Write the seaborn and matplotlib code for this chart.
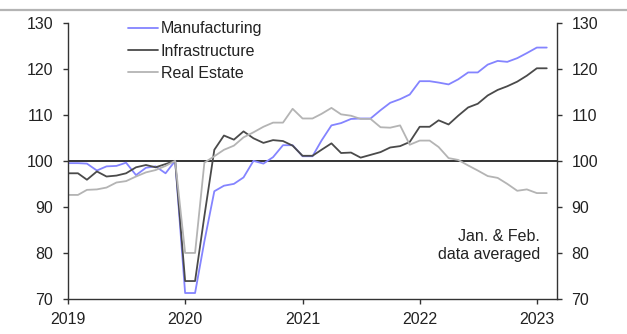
import matplotlib
matplotlib.use("Agg")
import matplotlib.pyplot as plt
from matplotlib.lines import Line2D
import pandas as pd
import seaborn as sns

# Monthly index values, Dec 2019 = 100 (Jan and Feb share one averaged value)
dates = pd.date_range("2019-01-01", periods=50, freq="MS")

manufacturing = [
    99.5, 99.5, 99.4, 97.9, 98.8, 98.9, 99.6, 96.9, 98.5, 98.8, 97.3, 100.0,
    71.3, 71.3, 82.5, 93.4, 94.6, 95.0, 96.4, 100.0, 99.4, 100.8, 103.4, 103.4,
    101.0, 101.0, 104.4, 107.7, 108.2, 109.1, 109.2, 109.2, 111.0, 112.6, 113.4, 114.4,
    117.3, 117.3, 117.0, 116.6, 117.7, 119.2, 119.2, 120.9, 121.7, 121.5, 122.3, 123.4,
    124.6, 124.6,
]
infrastructure = [
    97.3, 97.3, 95.9, 97.7, 96.6, 96.8, 97.3, 98.6, 99.1, 98.6, 99.3, 100.0,
    73.9, 73.9, 88.0, 102.4, 105.5, 104.6, 106.4, 104.9, 103.9, 104.5, 104.3, 103.3,
    101.1, 101.1, 102.4, 103.8, 101.7, 101.8, 100.7, 101.3, 101.9, 102.9, 103.2, 104.1,
    107.4, 107.4, 108.8, 107.9, 109.8, 111.6, 112.4, 114.2, 115.4, 116.2, 117.2, 118.5,
    120.1, 120.1,
]
real_estate = [
    92.6, 92.6, 93.7, 93.8, 94.2, 95.3, 95.6, 96.6, 97.5, 98.0, 98.9, 100.0,
    80.0, 80.0, 99.6, 101.0, 102.4, 103.3, 105.1, 106.2, 107.4, 108.3, 108.3, 111.3,
    109.2, 109.2, 110.2, 111.5, 110.1, 109.8, 109.1, 109.1, 107.3, 107.2, 107.7, 103.5,
    104.4, 104.4, 103.0, 100.6, 100.2, 99.0, 97.9, 96.7, 96.3, 95.0, 93.5, 93.8,
    93.0, 93.0,
]

series_names = ["Manufacturing", "Infrastructure", "Real Estate"]
series_colors = ["#8484ff", "#4a4a4a", "#b4b4b4"]
year_labels = ["2019", "2020", "2021", "2022", "2023"]
y_ticks = [70, 80, 90, 100, 110, 120, 130]
note = "Jan. & Feb.\ndata averaged"

sns.set_theme(style="white")
plt.rcParams["font.family"] = ["Liberation Sans", "DejaVu Sans"]

df = pd.DataFrame({
    "date": dates,
    series_names[0]: manufacturing,
    series_names[1]: infrastructure,
    series_names[2]: real_estate,
}).melt(id_vars="date", var_name="series", value_name="value")

text_color = "#222222"
spine_color = "#333333"
fsize = 11.5

fig = plt.figure(figsize=(6.27, 3.34), dpi=100)
ax = fig.add_axes([68 / 627, 1 - 299 / 334, (556.7 - 68) / 627, (299 - 22.7) / 334])

sns.lineplot(
    data=df, x="date", y="value", hue="series", hue_order=series_names,
    palette=dict(zip(series_names, series_colors)), linewidth=1.3,
    ax=ax, legend=False,
)

ax.axhline(100, color="#111111", linewidth=1.2, zorder=1)

ax.set_xlim(pd.Timestamp("2019-01-01"), pd.Timestamp("2023-03-04"))
ax.set_ylim(y_ticks[0], y_ticks[-1])
ax.set_xticks([pd.Timestamp(f"{y}-01-01") for y in year_labels])
ax.set_xticklabels(year_labels)
ax.set_yticks(y_ticks)
ax.set_xlabel("")
ax.set_ylabel("")

for side in ["left", "right", "bottom"]:
    ax.spines[side].set_visible(True)
    ax.spines[side].set_color(spine_color)
    ax.spines[side].set_linewidth(1.0)
ax.spines["top"].set_visible(False)

ax.tick_params(axis="y", which="both", left=True, right=True, labelleft=True,
               labelright=True, direction="out", length=3.6, width=1.0,
               color=spine_color, pad=7, labelsize=fsize, labelcolor=text_color)
ax.tick_params(axis="x", bottom=True, direction="out", length=3.6, width=1.0,
               color=spine_color, pad=6, labelsize=fsize, labelcolor=text_color)

handles = [Line2D([], [], color=c, linewidth=1.3) for c in series_colors]
leg = ax.legend(handles, series_names, loc="upper left",
                bbox_to_anchor=(0.123, 1.005), frameon=False, fontsize=fsize,
                handlelength=1.85, handletextpad=0.2, labelspacing=0.45,
                borderpad=0, borderaxespad=0)
for t in leg.get_texts():
    t.set_color(text_color)

ax.text(0.966, 0.255, note, transform=ax.transAxes, ha="right", va="top",
        fontsize=fsize, color=text_color, linespacing=1.3)

fig.add_artist(Line2D([0, 1], [1 - 10 / 334] * 2, transform=fig.transFigure,
                      color="#b4b4b4", linewidth=1.6))

fig.savefig("out.png", dpi=100, facecolor="white")
